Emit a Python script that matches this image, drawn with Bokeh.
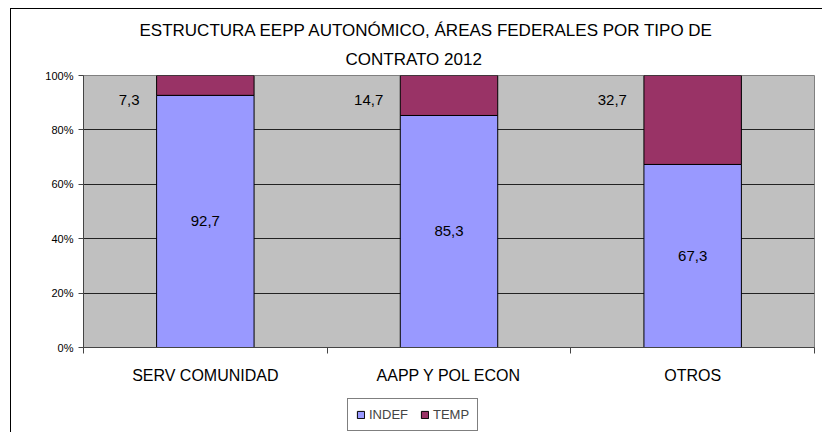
from bokeh.plotting import figure
from bokeh.layouts import column, row
from bokeh.models import (ColumnDataSource, FixedTicker, CustomJSTickFormatter, Legend, LegendItem,
                          Title, Spacer)
from bokeh.core.properties import value
from bokeh.embed import file_html
from bokeh.resources import INLINE

categories = ["SERV COMUNIDAD", "AAPP Y POL ECON", "OTROS"]
indef = [92.7, 85.3, 67.3]
temp = [7.3, 14.7, 32.7]
y_ticks = [0, 20, 40, 60, 80, 100]
title_lines = ["ESTRUCTURA EEPP AUTONÓMICO, ÁREAS FEDERALES POR TIPO DE", "CONTRATO 2012"]
series_names = ["INDEF", "TEMP"]

FONT = "Liberation Sans"
C_INDEF = "#9999FF"
C_TEMP = "#993366"

xc = [i + 0.5 for i in range(len(categories))]
src = ColumnDataSource(dict(
    x=xc,
    indef=indef,
    temp=temp,
    top_all=[a + b for a, b in zip(indef, temp)],
    indef_mid=[v / 2 for v in indef],
    left_edge=[x - 0.2 for x in xc],
    indef_lbl=[f"{v:.1f}".replace(".", ",") for v in indef],
    temp_lbl=[f"{v:.1f}".replace(".", ",") for v in temp],
    temp_y=[100] * len(temp),
))

p = figure(width=812, height=424, output_backend="svg", toolbar_location=None,
           x_range=(0, len(categories)), y_range=(0, 100),
           min_border_left=72, min_border_right=9, min_border_top=66, min_border_bottom=86)
p.margin = (8, 0, 0, 10)
p.styles = {"border-left": "1px solid black", "border-top": "1px solid black"}
p.background_fill_color = "#C0C0C0"
p.border_fill_color = "white"
p.outline_line_color = "#808080"
p.outline_line_width = 1

r1 = p.vbar(x="x", width=0.4, bottom=0, top="indef", source=src,
            fill_color=C_INDEF, line_color="black", line_width=1)
r2 = p.vbar(x="x", width=0.4, bottom="indef", top="top_all", source=src,
            fill_color=C_TEMP, line_color="black", line_width=1)

p.text(x="x", y="indef_mid", text="indef_lbl", source=src, text_align="center",
       text_baseline="middle", text_font=value(FONT), text_font_size="15px", text_color="black")
p.text(x="left_edge", y="temp_y", text="temp_lbl", source=src, text_align="right",
       text_baseline="middle", x_offset=-17, y_offset=24,
       text_font=value(FONT), text_font_size="15px", text_color="black")

# grid
p.xgrid.visible = False
p.ygrid.ticker = FixedTicker(ticks=y_ticks)
p.ygrid.grid_line_color = "#222222"
p.ygrid.grid_line_width = 1

# y axis
p.yaxis.ticker = FixedTicker(ticks=y_ticks)
p.yaxis.formatter = CustomJSTickFormatter(code="return tick + '%';")
p.yaxis.axis_line_color = "#444444"
p.yaxis.major_tick_line_color = "#444444"
p.yaxis.major_tick_out = 5
p.yaxis.major_tick_in = 0
p.yaxis.minor_tick_line_color = None
p.yaxis.major_label_standoff = 5
p.yaxis.major_label_text_font = FONT
p.yaxis.major_label_text_font_size = "11px"
p.yaxis.major_label_text_color = "black"

# x axis
p.xaxis.ticker = FixedTicker(ticks=xc, minor_ticks=list(range(len(categories) + 1)))
p.xaxis.major_label_overrides = {x: c for x, c in zip(xc, categories)}
p.xaxis.major_tick_line_color = None
p.xaxis.major_tick_out = 0
p.xaxis.minor_tick_out = 6
p.xaxis.minor_tick_in = 0
p.xaxis.minor_tick_line_color = "#444444"
p.xaxis.axis_line_color = "#444444"
p.xaxis.major_label_standoff = 13
p.xaxis.major_label_text_font = FONT
p.xaxis.major_label_text_font_size = "16px"
p.xaxis.major_label_text_color = "black"

# title (two lines, centred on the whole chart area)
p.title = Title(text=title_lines[0], align="left", offset=56, text_font=FONT,
                text_font_size="17px", text_font_style="normal", text_color="black", standoff=2)
p.add_layout(Title(text=title_lines[1], align="left", offset=262, text_font=FONT,
                   text_font_size="17px", text_font_style="normal", text_color="black",
                   standoff=14), "above")

# legend in a small separate figure laid over the bottom area
lf = figure(width=140, height=34, output_backend="svg", toolbar_location=None,
            x_range=(0, 1), y_range=(0, 1), min_border=0,
            x_axis_location=None, y_axis_location=None)
lf.grid.visible = False
lf.outline_line_color = None
lf.background_fill_color = "white"
lf.border_fill_color = "white"
lsrc = ColumnDataSource(dict(x=[5], top=[1]))
lr1 = lf.vbar(x="x", top="top", width=0.1, source=lsrc, fill_color=C_INDEF, line_color="black")
lr2 = lf.vbar(x="x", top="top", width=0.1, source=lsrc, fill_color=C_TEMP, line_color="black")
legend = Legend(items=[LegendItem(label=series_names[0], renderers=[lr1]),
                       LegendItem(label=series_names[1], renderers=[lr2])],
                orientation="horizontal", location="top_left",
                label_text_font=FONT, label_text_font_size="13px",
                label_height=15,
                glyph_width=9, glyph_height=9, spacing=12, padding=8, margin=0,
                label_standoff=4, border_line_color="black", border_line_width=1,
                background_fill_color="white", background_fill_alpha=1)
lf.add_layout(legend, "center")

bottom = row(Spacer(width=347, height=34), lf, spacing=0)
bottom.margin = (-34, 0, 0, 0)

layout = column(p, bottom, spacing=0)

open("out.html", "w").write(file_html(layout, INLINE))
